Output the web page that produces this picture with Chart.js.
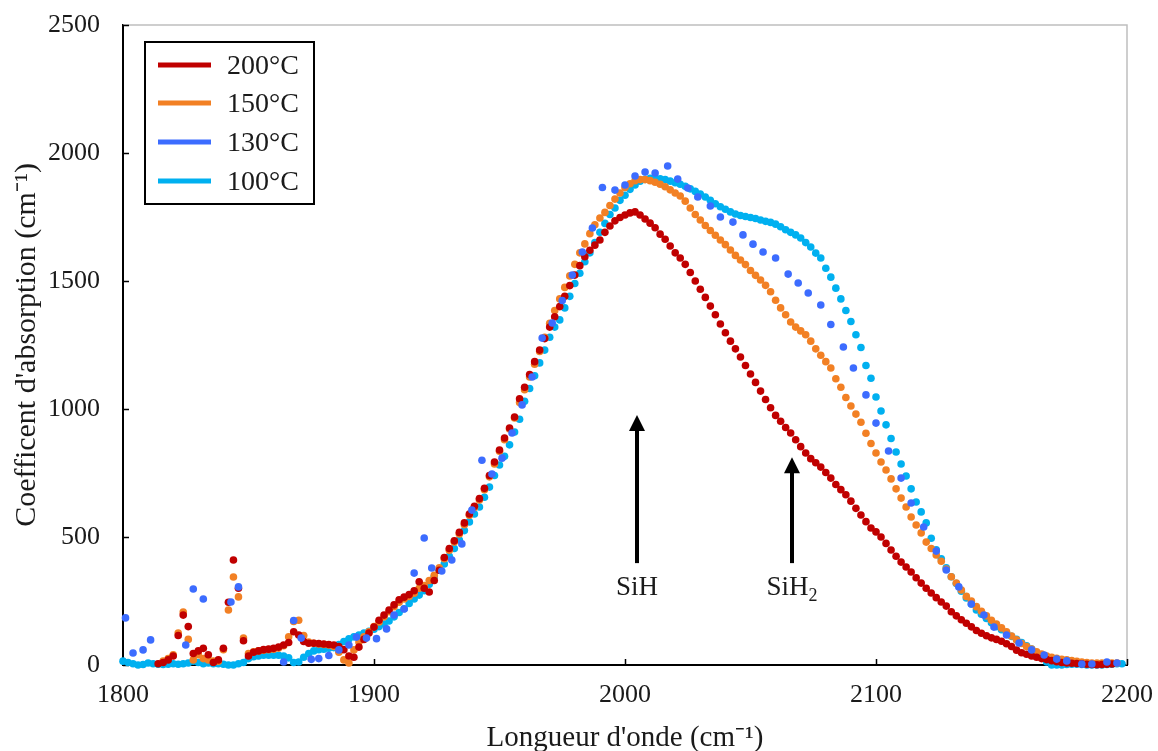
<!DOCTYPE html>
<html><head><meta charset="utf-8">
<script src="https://cdn.jsdelivr.net/npm/chart.js@4/dist/chart.umd.min.js"></script>
<style>html,body{margin:0;padding:0;background:#fff;}#wrap{width:1158px;height:751px;}</style>
</head><body><div id="wrap"><canvas id="c" width="1158" height="751"></canvas></div>
<script>
// ---------- DATA ----------
const seriesNames = ['200°C', '150°C', '130°C', '100°C'];
const seriesColors = ['#C00000', '#F28024', '#3C6CFF', '#00B0F0'];
const xTicks = [1800, 1900, 2000, 2100, 2200];
const yTicks = [0, 500, 1000, 1500, 2000, 2500];

// wavenumber grid (cm-1) for the densely sampled spectra
const wavenumbers = [
1800,1802,1804,1806,1808,1810,1812,1814,1816,1818,
1820,1822,1824,1826,1828,1830,1832,1834,1836,1838,
1840,1842,1844,1846,1848,1850,1852,1854,1856,1858,
1860,1862,1864,1866,1868,1870,1872,1874,1876,1878,
1880,1882,1884,1886,1888,1890,1892,1894,1896,1898,
1900,1902,1904,1906,1908,1910,1912,1914,1916,1918,
1920,1922,1924,1926,1928,1930,1932,1934,1936,1938,
1940,1942,1944,1946,1948,1950,1952,1954,1956,1958,
1960,1962,1964,1966,1968,1970,1972,1974,1976,1978,
1980,1982,1984,1986,1988,1990,1992,1994,1996,1998,
2000,2002,2004,2006,2008,2010,2012,2014,2016,2018,
2020,2022,2024,2026,2028,2030,2032,2034,2036,2038,
2040,2042,2044,2046,2048,2050,2052,2054,2056,2058,
2060,2062,2064,2066,2068,2070,2072,2074,2076,2078,
2080,2082,2084,2086,2088,2090,2092,2094,2096,2098,
2100,2102,2104,2106,2108,2110,2112,2114,2116,2118,
2120,2122,2124,2126,2128,2130,2132,2134,2136,2138,
2140,2142,2144,2146,2148,2150,2152,2154,2156,2158,
2160,2162,2164,2166,2168,2170,2172,2174,2176,2178,
2180,2182,2184,2186,2188,2190,2192,2194,2196,2198,
2200];

const abs200 = [
null,null,null,null,null,null,null,5,10,20,
35,115,195,150,45,55,65,40,10,20,
65,245,410,300,95,35,50,55,60,62,
65,70,78,88,130,117,92,85,85,84,
82,80,78,72,60,35,30,70,100,125,
148,175,195,215,235,255,265,275,290,325,
300,285,330,370,420,455,485,518,555,590,
620,650,690,740,793,840,887,926,969,1040,
1085,1135,1185,1230,1275,1320,1360,1400,1440,1482,
1523,1560,1595,1620,1640,1660,1690,1715,1735,1748,
1758,1766,1770,1758,1742,1726,1708,1683,1663,1637,
1610,1590,1565,1533,1500,1468,1436,1402,1368,1332,
1298,1265,1235,1203,1170,1137,1104,1070,1037,1005,
975,952,928,906,880,853,828,806,790,773,
752,730,705,685,665,640,612,586,560,535,
520,500,475,449,425,402,383,363,341,320,
300,281,263,246,230,208,192,177,163,149,
135,124,114,106,100,93,83,72,58,48,
42,35,30,25,21,17,13,10,8,7,
6,5,3,2,1,2,3,4,null,null,
null];

const abs150 = [
null,null,null,null,null,null,null,null,15,25,
40,125,207,100,20,40,25,20,15,15,
60,215,344,266,105,45,52,55,58,60,
62,66,75,110,170,175,115,90,85,82,
80,78,72,50,20,8,59,90,110,130,
150,168,188,208,228,245,258,268,280,300,
310,330,350,380,415,448,480,512,548,585,
615,645,685,735,785,835,880,922,965,1025,
1075,1125,1175,1225,1280,1335,1385,1430,1475,1520,
1565,1610,1645,1685,1720,1746,1768,1795,1820,1844,
1865,1880,1892,1896,1896,1892,1886,1878,1868,1856,
1844,1832,1812,1785,1760,1738,1717,1697,1679,1660,
1642,1621,1600,1582,1564,1541,1522,1504,1483,1458,
1425,1395,1368,1340,1320,1305,1290,1265,1235,1210,
1185,1160,1118,1085,1045,1012,980,948,905,865,
828,793,762,727,688,652,617,578,547,516,
480,455,430,405,375,345,320,293,268,250,
228,210,192,175,160,145,130,113,98,84,
72,62,52,43,35,30,26,22,20,17,
14,12,10,8,8,8,8,8,8,null,
null];

const abs100 = [
15,10,5,0,2,8,5,3,2,3,
5,3,5,8,15,10,5,8,5,5,
3,0,0,5,10,25,32,35,38,38,
38,38,35,28,10,12,30,45,55,60,
62,65,68,80,92,102,110,117,125,132,
140,150,160,172,188,205,220,240,258,273,
290,315,345,370,395,425,455,488,525,559,
590,617,655,695,740,781,815,860,910,960,
1030,1080,1130,1180,1230,1280,1320,1348,1395,1440,
1490,1530,1575,1610,1650,1690,1725,1760,1785,1815,
1835,1858,1875,1890,1897,1901,1902,1899,1896,1890,
1884,1878,1870,1860,1850,1840,1828,1815,1802,1790,
1780,1770,1762,1756,1752,1748,1744,1738,1733,1729,
1722,1712,1700,1690,1680,1668,1650,1633,1609,1590,
1550,1515,1472,1430,1385,1342,1290,1240,1170,1120,
1047,992,938,885,832,785,738,688,637,598,
555,495,450,415,380,345,318,288,262,238,
215,198,182,165,150,138,126,112,100,88,
75,62,48,32,12,0,0,0,2,3,
3,2,0,0,0,0,2,3,5,5,
null];

// 130°C spectrum is sampled on its own (coarser) grid
const wavenumbers130 = [1801,1804,1808,1811,1825,1828,1832,1843,1846,1864,1868,1871,1875,1878,1882,1886,1890,1893,1897,1901,1905,1908,1912,1916,1920,1923,1927,1931,1935,1939,1943,1947,1951,1955,1959,1963,1967,1971,1975,1979,1983,1987,1991,1996,2000,2004,2008,2012,2017,2021,2025,2029,2034,2038,2043,2047,2051,2055,2060,2065,2069,2073,2078,2082,2087,2091,2096,2100,2105,2110,2114,2119,2124,2128,2133,2138,2143,2147,2152,2157,2162,2167,2172,2176,2182,2186,2192,2196];
const abs130 = [184,47,59,98,78,297,258,246,305,12,174,105,22,25,37,59,78,109,105,103,141,195,219,359,496,379,367,410,473,605,800,746,808,906,1016,1125,1277,1336,1424,1523,1613,1707,1865,1855,1875,1910,1926,1922,1949,1898,1863,1828,1793,1750,1730,1680,1644,1613,1590,1527,1492,1453,1406,1330,1242,1160,1055,945,836,730,633,539,445,371,305,238,195,148,117,86,59,39,23,16,4,4,12,8];

// peak annotations (label, wavenumber, arrow base value, arrow tip value, subscript)
const peakLabels = ['SiH', 'SiH'];
const peakSubs = ['', '2'];
const peakX = [2004.8, 2066.5];
const peakBase = [398, 398];
const peakTip = [977, 812];
const peakLabelY = 273;

// ---------- BUILD ----------
function pts(xs, ys) {
  const out = [];
  for (let i = 0; i < xs.length; i++) if (ys[i] !== null) out.push({x: xs[i], y: ys[i]});
  return out;
}
const seriesData = [pts(wavenumbers, abs200), pts(wavenumbers, abs150), pts(wavenumbers130, abs130), pts(wavenumbers, abs100)];
const drawOrder = [1, 2, 0, 3];

const FONT = "'Liberation Serif', 'Times New Roman', serif";
const TXT = '#1a1a1a';

const decor = {
  id: 'decor',
  beforeDatasetsDraw(chart) {
    const {ctx, chartArea: a} = chart;
    ctx.save();
    ctx.strokeStyle = '#BFBFBF';
    ctx.lineWidth = 1.5;
    ctx.beginPath();
    ctx.moveTo(a.left, a.top); ctx.lineTo(a.right, a.top); ctx.lineTo(a.right, a.bottom);
    ctx.stroke();
    // inner tick marks
    const xs = chart.scales.x, ys = chart.scales.y;
    ctx.strokeStyle = '#000';
    ctx.lineWidth = 1.5;
    ctx.beginPath();
    yTicks.forEach(v => { const p = Math.round(ys.getPixelForValue(v)) + 0.5; ctx.moveTo(a.left, p); ctx.lineTo(a.left + 6, p); });
    xTicks.forEach(v => { const p = Math.round(xs.getPixelForValue(v)) + 0.5; ctx.moveTo(p, a.bottom); ctx.lineTo(p, a.bottom - 6); });
    ctx.stroke();
    ctx.restore();
  },
  afterDraw(chart) {
    const {ctx} = chart;
    const xs = chart.scales.x, ys = chart.scales.y;
    ctx.save();
    // arrows + labels
    for (let i = 0; i < peakX.length; i++) {
      const px = Math.round(xs.getPixelForValue(peakX[i]));
      const pb = ys.getPixelForValue(peakBase[i]);
      const pt = ys.getPixelForValue(peakTip[i]);
      ctx.fillStyle = '#000';
      ctx.fillRect(px - 2, pt + 12, 4, pb - pt - 12);
      ctx.beginPath();
      ctx.moveTo(px, pt); ctx.lineTo(px + 8, pt + 16); ctx.lineTo(px - 8, pt + 16); ctx.closePath();
      ctx.fill();
      const ly = ys.getPixelForValue(peakLabelY);
      ctx.fillStyle = TXT;
      ctx.textBaseline = 'alphabetic';
      ctx.font = '27px ' + FONT;
      const w1 = ctx.measureText(peakLabels[i]).width;
      let w2 = 0;
      if (peakSubs[i]) { ctx.font = '18px ' + FONT; w2 = ctx.measureText(peakSubs[i]).width; }
      const x0 = px - (w1 + w2) / 2;
      ctx.font = '27px ' + FONT;
      ctx.textAlign = 'left';
      ctx.fillText(peakLabels[i], x0, ly);
      if (peakSubs[i]) { ctx.font = '18px ' + FONT; ctx.fillText(peakSubs[i], x0 + w1, ly + 6); }
    }
    // legend
    const L = 145, T = 42, R = 314, B = 204;
    ctx.strokeStyle = '#000'; ctx.lineWidth = 2;
    ctx.strokeRect(L, T, R - L, B - T);
    const rowY = [65, 103, 142, 181];
    ctx.font = '28px ' + FONT;
    ctx.textBaseline = 'middle';
    ctx.textAlign = 'left';
    seriesNames.forEach((n, i) => {
      ctx.fillStyle = seriesColors[i];
      ctx.fillRect(158, rowY[i] - 2.5, 53, 5);
      ctx.fillStyle = TXT;
      ctx.fillText(n, 227, rowY[i] + 2);
    });
    ctx.restore();
  }
};

new Chart(document.getElementById('c'), {
  type: 'scatter',
  data: {
    datasets: seriesNames.map((n, i) => ({
      label: n,
      data: seriesData[i],
      order: drawOrder[i],
      showLine: false,
      backgroundColor: seriesColors[i],
      borderColor: seriesColors[i],
      pointRadius: 3.8,
      pointBorderWidth: 0,
      pointHoverRadius: 3.8,
      clip: 10
    }))
  },
  options: {
    responsive: false,
    animation: false,
    devicePixelRatio: 1,
    layout: {padding: {left: 0, right: 31, top: 25, bottom: 0}},
    plugins: {legend: {display: false}, tooltip: {enabled: false}},
    scales: {
      x: {
        type: 'linear', min: 1800, max: 2200,
        afterFit: s => { s.height = 86; s.paddingLeft = 0; s.paddingRight = 0; },
        afterBuildTicks: s => { s.ticks = xTicks.map(v => ({value: v})); },
        grid: {display: false, drawTicks: false},
        border: {display: true, color: '#000', width: 2},
        ticks: {padding: 15, maxRotation: 0, color: TXT, font: {family: FONT, size: 26}, callback: v => String(v)},
        title: {display: true, text: "Longueur d'onde (cm⁻¹)", color: TXT, font: {family: FONT, size: 29, lineHeight: 0.9}, padding: {top: 0, bottom: 0}}
      },
      y: {
        type: 'linear', min: 0, max: 2500,
        afterFit: s => { s.width = 123; s.paddingTop = 0; s.paddingBottom = 0; },
        afterBuildTicks: s => { s.ticks = yTicks.map(v => ({value: v})); },
        grid: {display: false, drawTicks: false},
        border: {display: true, color: '#000', width: 2},
        ticks: {padding: 23, color: TXT, font: {family: FONT, size: 26}, callback: v => String(v)},
        title: {display: true, text: "Coefficent d'absorption (cm⁻¹)", color: TXT, font: {family: FONT, size: 30, lineHeight: 1}, padding: {top: 12, bottom: 0}}
      }
    }
  },
  plugins: [decor]
});
</script></body></html>
